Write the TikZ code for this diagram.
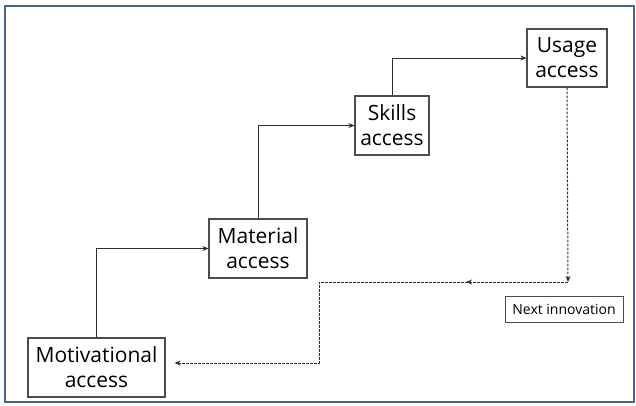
\documentclass[tikz,border=0pt]{standalone}
\usepackage{fontspec}
\setmainfont{Open Sans}
\usepackage{tikz}
\usetikzlibrary{arrows.meta}
\usetikzlibrary{decorations.markings}

\definecolor{framecol}{RGB}{70,100,135}
\definecolor{linecol}{RGB}{45,45,45}

\tikzset{
  box/.style={draw=linecol!85, line width=1.2pt, inner sep=2pt, align=center,
    font=\fontsize{21}{25}\selectfont},
  smallbox/.style={draw=linecol!85, line width=1pt, inner sep=2pt,
    font=\fontsize{14}{16}\selectfont},
  dots/.style={dash pattern=on 2.6pt off 1.4pt, line width=1pt},
  midarrow/.style={postaction={decorate}, decoration={markings,
    mark=at position #1 with {\arrow{Stealth[length=6pt,width=5pt]}}}}
}

\begin{document}
\begin{tikzpicture}[x=1pt, y=-1pt, >={Stealth[length=6pt,width=5pt]}, draw=linecol, line width=0.9pt]
  \useasboundingbox (0,0) rectangle (636,405);
  \draw[framecol, line width=2.5pt] (5,6) rectangle (634,402);

  \node[box, minimum width=137pt, minimum height=59pt] (mot) at (96.5,367.5) {Motivational\\access};
  \node[box, minimum width=98pt, minimum height=59pt] (mat) at (258,248.5) {Material\\access};
  \node[box, minimum width=74pt, minimum height=59pt] (skl) at (392,125.5) {Skills\\access};
  \node[box, minimum width=80pt, minimum height=58pt] (use) at (567,58) {Usage\\access};
  \node[smallbox, minimum width=118pt, minimum height=26pt] (nxt) at (564,309) {Next innovation};

  \coordinate (loop) at (568,282);
  \coordinate (drop) at (319,282);

  % steps up
  \draw[->] (mot.north) |- (mat.west);
  \draw[->] (mat.north) |- (skl.west);
  \draw[->] (skl.north) |- (use.west);

  % back to the start
  \draw[dots, ->] (use.south) -- (loop);
  \draw[dots, ->, shorten >=9pt, midarrow=102pt] (loop) -- (drop) |- ([yshift=4.5pt]mot.east);
\end{tikzpicture}
\end{document}
